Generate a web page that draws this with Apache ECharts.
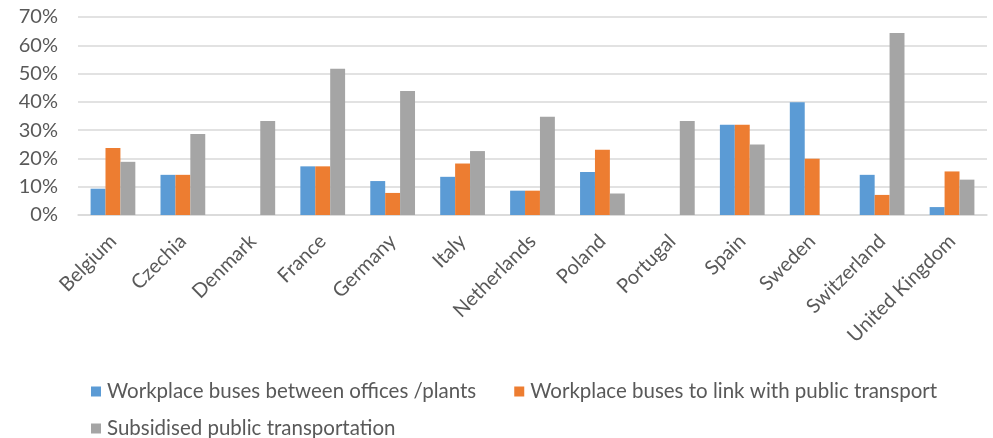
<!DOCTYPE html>
<html>
<head>
<meta charset="utf-8">
<script src="https://cdn.jsdelivr.net/npm/echarts@6/dist/echarts.min.js"></script>
<style>
  html, body { margin: 0; padding: 0; background: #fff; }
  #chart { width: 993px; height: 438px; }
</style>
</head>
<body>
<div id="chart"></div>
<script>
const countries = ['Belgium', 'Czechia', 'Denmark', 'France', 'Germany', 'Italy', 'Netherlands',
  'Poland', 'Portugal', 'Spain', 'Sweden', 'Switzerland', 'United Kingdom'];
const busesBetweenOffices = [9.3, 14.2, 0, 17.2, 12.0, 13.5, 8.6, 15.2, 0, 31.9, 39.9, 14.2, 2.8];
const busesToPublicTransport = [23.7, 14.2, 0, 17.2, 7.8, 18.2, 8.6, 23.1, 0, 31.9, 19.9, 7.1, 15.4];
const subsidisedTransport = [18.8, 28.6, 33.2, 51.7, 43.8, 22.6, 34.7, 7.6, 33.2, 24.9, 0, 64.3, 12.5];
const seriesNames = ['Workplace buses between offices /plants',
  'Workplace buses to link with public transport',
  'Subsidised public transportation'];
const yTicks = { min: 0, max: 70, interval: 10 };

const FONT = 'Lato, "Liberation Sans", sans-serif';
const TEXT = '#595959';

const chart = echarts.init(document.getElementById('chart'), null, { renderer: 'canvas' });
const colors = ['#5B9BD5', '#ED7D31', '#A5A5A5'];
const values = [busesBetweenOffices, busesToPublicTransport, subsidisedTransport];

const legendText = { color: TEXT, fontSize: 20.5, fontFamily: FONT, padding: [0, 0, 0, 1] };

chart.setOption({
  animation: false,
  textStyle: { fontFamily: FONT },
  grid: { left: 78, right: 6, top: 17, bottom: 223, containLabel: false },
  legend: [
    {
      data: seriesNames.slice(0, 2),
      left: 86, top: 376,
      itemWidth: 10, itemHeight: 10, itemGap: 38,
      icon: 'rect',
      textStyle: legendText
    },
    {
      data: seriesNames.slice(2),
      left: 86, top: 413,
      itemWidth: 10, itemHeight: 10,
      icon: 'rect',
      textStyle: legendText
    }
  ],
  xAxis: {
    type: 'category',
    data: countries,
    axisLine: { lineStyle: { color: '#D9D9D9', width: 1.5 } },
    axisTick: { show: false },
    axisLabel: { rotate: 45, color: TEXT, fontSize: 20, fontFamily: FONT, margin: 23, interval: 0 }
  },
  yAxis: {
    type: 'value',
    min: yTicks.min, max: yTicks.max, interval: yTicks.interval,
    axisLine: { show: false },
    axisTick: { show: false },
    splitLine: { lineStyle: { color: '#D9D9D9', width: 1.5 } },
    axisLabel: { formatter: '{value}%', color: TEXT, fontSize: 20, fontFamily: FONT, margin: 20 }
  },
  series: seriesNames.map((name, i) => ({
    name,
    type: 'bar',
    data: values[i],
    itemStyle: { color: colors[i] },
    barGap: '0%',
    barCategoryGap: '36%'
  }))
});
</script>
</body>
</html>
